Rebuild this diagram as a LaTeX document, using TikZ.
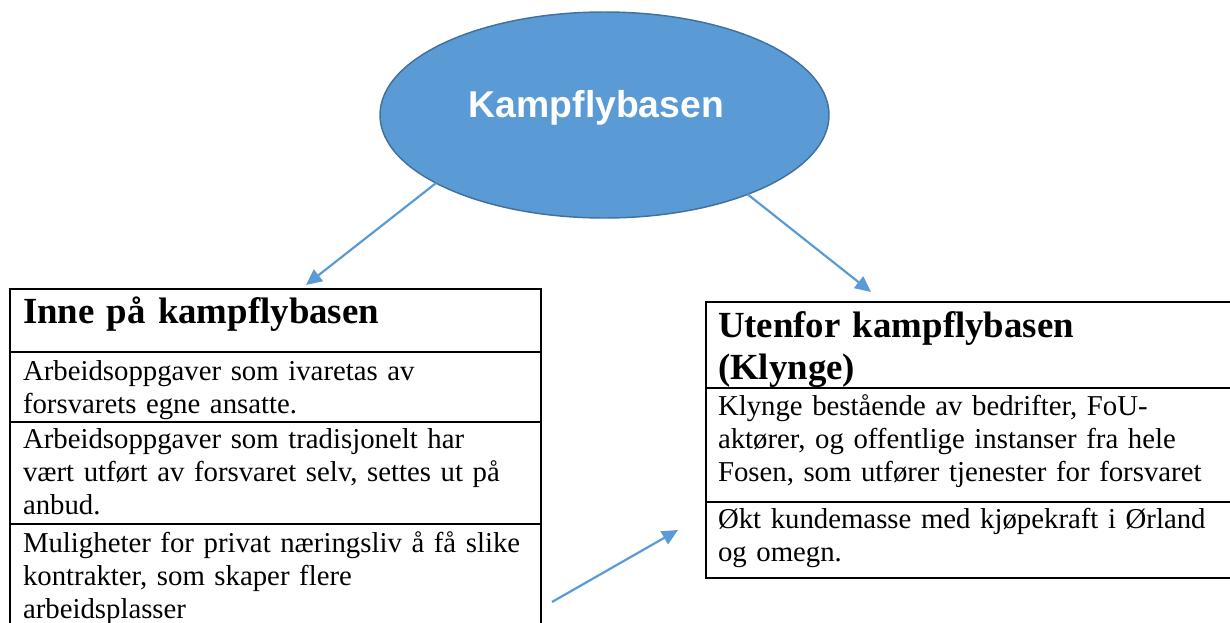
\documentclass[tikz,border=0pt]{standalone}
\usepackage{fontspec}
\setmainfont{Liberation Serif}
\newfontfamily\ovalfont{Liberation Sans}
\usetikzlibrary{positioning}
\usetikzlibrary{shapes.geometric}
\usetikzlibrary{arrows.meta}
\newlength\pix
\setlength\pix{0.41pt}
\definecolor{ovalblue}{HTML}{5B9BD5}
\definecolor{ovalline}{HTML}{41719C}

\begin{document}
\begin{tikzpicture}[x=0.41pt,y=-0.41pt,
	row/.style={draw, thick, anchor=north west, align=left, inner ysep=0pt, outer sep=0pt},
	lrow/.style={row, inner xsep=13\pix, text width=505\pix},
	rrow/.style={row, inner xsep=12\pix, text width=510\pix},
	head/.style={font=\fontsize{15.1}{17.6}\selectfont\bfseries},
	body/.style={font=\fontsize{11.8}{13.6}\selectfont},
	pil/.style={-{Triangle[length=6.5pt,width=6pt]}, ovalblue, line width=0.9pt}]
		\clip (0,0) rectangle (1230,622);
		\node (kb) [ellipse, draw=ovalline, line width=0.6pt, fill=ovalblue, outer sep=0pt, minimum width=449\pix, minimum height=206\pix, text=white, font=\ovalfont\fontsize{15.3}{18}\selectfont\bfseries, text height=12\pix, text depth=8\pix] at (604.5,115) {\hspace*{-16\pix}Kampflybasen};
		% venstre tabell
		\node (inT) [lrow, head, text height=34\pix, text depth=29\pix] at (10,289) {Inne på kampflybasen};
		\node (in1) [lrow, body, text height=28\pix, text depth=42\pix, below=0pt of inT.south west, anchor=north west] {Arbeidsoppgaver som ivaretas av\\ forsvarets egne ansatte.};
		\node (in2) [lrow, body, text height=26\pix, text depth=76\pix, below=0pt of in1.south west, anchor=north west] {Arbeidsoppgaver som tradisjonelt har\\ vært utført av forsvaret selv, settes ut på\\ anbud.};
		\node (in3) [lrow, body, text height=28\pix, text depth=88\pix, below=0pt of in2.south west, anchor=north west] {Muligheter for privat næringsliv å få slike\\ kontrakter, som skaper flere\\ arbeidsplasser};
		% hoyre tabell
		\node (utT) [rrow, head, text height=35\pix, text depth=51\pix] at (706,302) {Utenfor kampflybasen\\ (Klynge)};
		\node (ut1) [rrow, body, text height=27\pix, text depth=87\pix, below=0pt of utT.south west, anchor=north west] {Klynge bestående av bedrifter, FoU-\\ aktører, og offentlige instanser fra hele\\ Fosen, som utfører tjenester for forsvaret};
		\node (ut2) [rrow, body, text height=26\pix, text depth=50\pix, below=0pt of ut1.south west, anchor=north west] {Økt kundemasse med kjøpekraft i Ørland\\ og omegn.};
		\coordinate (src) at (552,602);
		\draw [pil] (kb.202) -- ([xshift=296\pix, yshift=4\pix]inT.north west);
		\draw [pil] (kb.331) -- ([xshift=165\pix, yshift=10\pix]utT.north west);
		\draw [pil] (src) -- ([xshift=-28\pix, yshift=10\pix]ut2.west);
\end{tikzpicture}
\end{document}
